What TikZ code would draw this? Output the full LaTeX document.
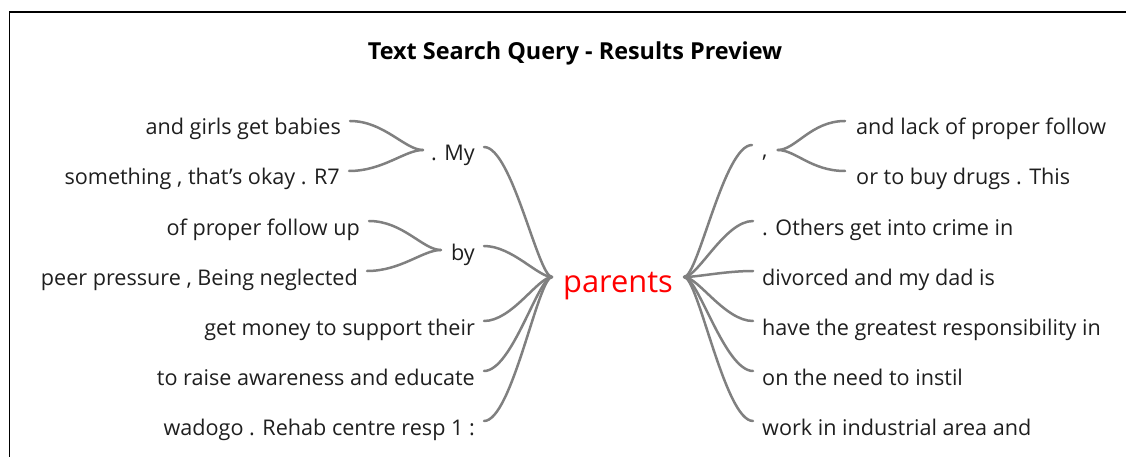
\documentclass[tikz,border=0pt]{standalone}
\usepackage{fontspec}
\setmainfont{Open Sans}
\usetikzlibrary{calc}
\tikzset{
  word/.style={inner sep=0pt, text=black!88, font=\fontsize{21.6}{25}\selectfont},
  leftword/.style={word, anchor=base east},
  rightword/.style={word, anchor=base west},
  keyword/.style={inner sep=0pt, anchor=base west, text=red, font=\fontsize{30.8}{35}\selectfont},
  heading/.style={inner sep=0pt, anchor=base, text=black, font=\bfseries\fontsize{23.4}{27}\selectfont},
  branch/.style={draw=black!50, line width=2.5pt, line cap=round},
  frame/.style={draw=black, line width=1.8pt}
}
\begin{document}
\begin{tikzpicture}[x=1pt, y=-1pt]
\useasboundingbox (0,0) rectangle (1126,457);
\clip (0,0) rectangle (1126,457);
\fill[white] (0,0) rectangle (1126,457);
\draw[frame] (9.5,12) rectangle (1140,470);

\node[heading] (title) at (575,60) {Text Search Query - Results Preview};

% central keyword
\node[keyword] (par) at (563,292) {parents};
\coordinate (hubL) at ([xshift=-11pt,yshift=15pt]par.base west);
\coordinate (hubR) at ([xshift=11pt,yshift=15pt]par.base east);

% left side
\node[leftword] (m1) at (475,161) {. My};
\node[leftword] (m2) at (475,260) {by};
\node[leftword] (l1) at (341,135) {and girls get babies};
\node[leftword] (l2) at (340,185) {something , that’s okay . R7};
\node[leftword] (l3) at (360,235) {of proper follow up};
\node[leftword] (l4) at (358,285) {peer pressure , Being neglected};
\node[leftword] (l5) at (475,335) {get money to support their};
\node[leftword] (l6) at (475,385) {to raise awareness and educate};
\node[leftword] (l7) at (475,435) {wadogo . Rehab centre resp 1 :};

% right side
\node[rightword] (r0) at (762,158) {,};
\node[rightword] (r1) at (856,135) {and lack of proper follow};
\node[rightword] (r2) at (856,185) {or to buy drugs . This};
\node[rightword] (r3) at (762,235) {. Others get into crime in};
\node[rightword] (r4) at (762,285) {divorced and my dad is};
\node[rightword] (r5) at (762,335) {have the greatest responsibility in};
\node[rightword] (r6) at (762,385) {on the need to instil};
\node[rightword] (r7) at (762,435) {work in industrial area and};

% branches from the keyword to the left
\foreach \n in {m1,m2,l5,l6,l7}
  \draw[branch] (hubL) .. controls +(-14,0) and +(28,0) .. ([xshift=9pt,yshift=14pt]\n.base east);
% second level, left
\foreach \n in {l1,l2}
  \draw[branch] ([xshift=-8pt,yshift=11pt]m1.base west) .. controls +(-18,0) and +(34,0) .. ([xshift=9pt,yshift=14pt]\n.base east);
\foreach \n in {l3,l4}
  \draw[branch] ([xshift=-10pt,yshift=10pt]m2.base west) .. controls +(-18,0) and +(34,0) .. ([xshift=9pt,yshift=14pt]\n.base east);

% branches from the keyword to the right
\draw[branch] (hubR) .. controls +(14,0) and +(-28,0) .. ([xshift=-10pt,yshift=13pt]r0.base west);
\foreach \n in {r3,r4,r5,r6,r7}
  \draw[branch] (hubR) .. controls +(14,0) and +(-28,0) .. ([xshift=-9pt,yshift=14pt]\n.base west);
% second level, right
\foreach \n in {r1,r2}
  \draw[branch] ([xshift=10pt,yshift=8pt]r0.base east) .. controls +(18,0) and +(-34,0) .. ([xshift=-11pt,yshift=14pt]\n.base west);
\end{tikzpicture}
\end{document}
